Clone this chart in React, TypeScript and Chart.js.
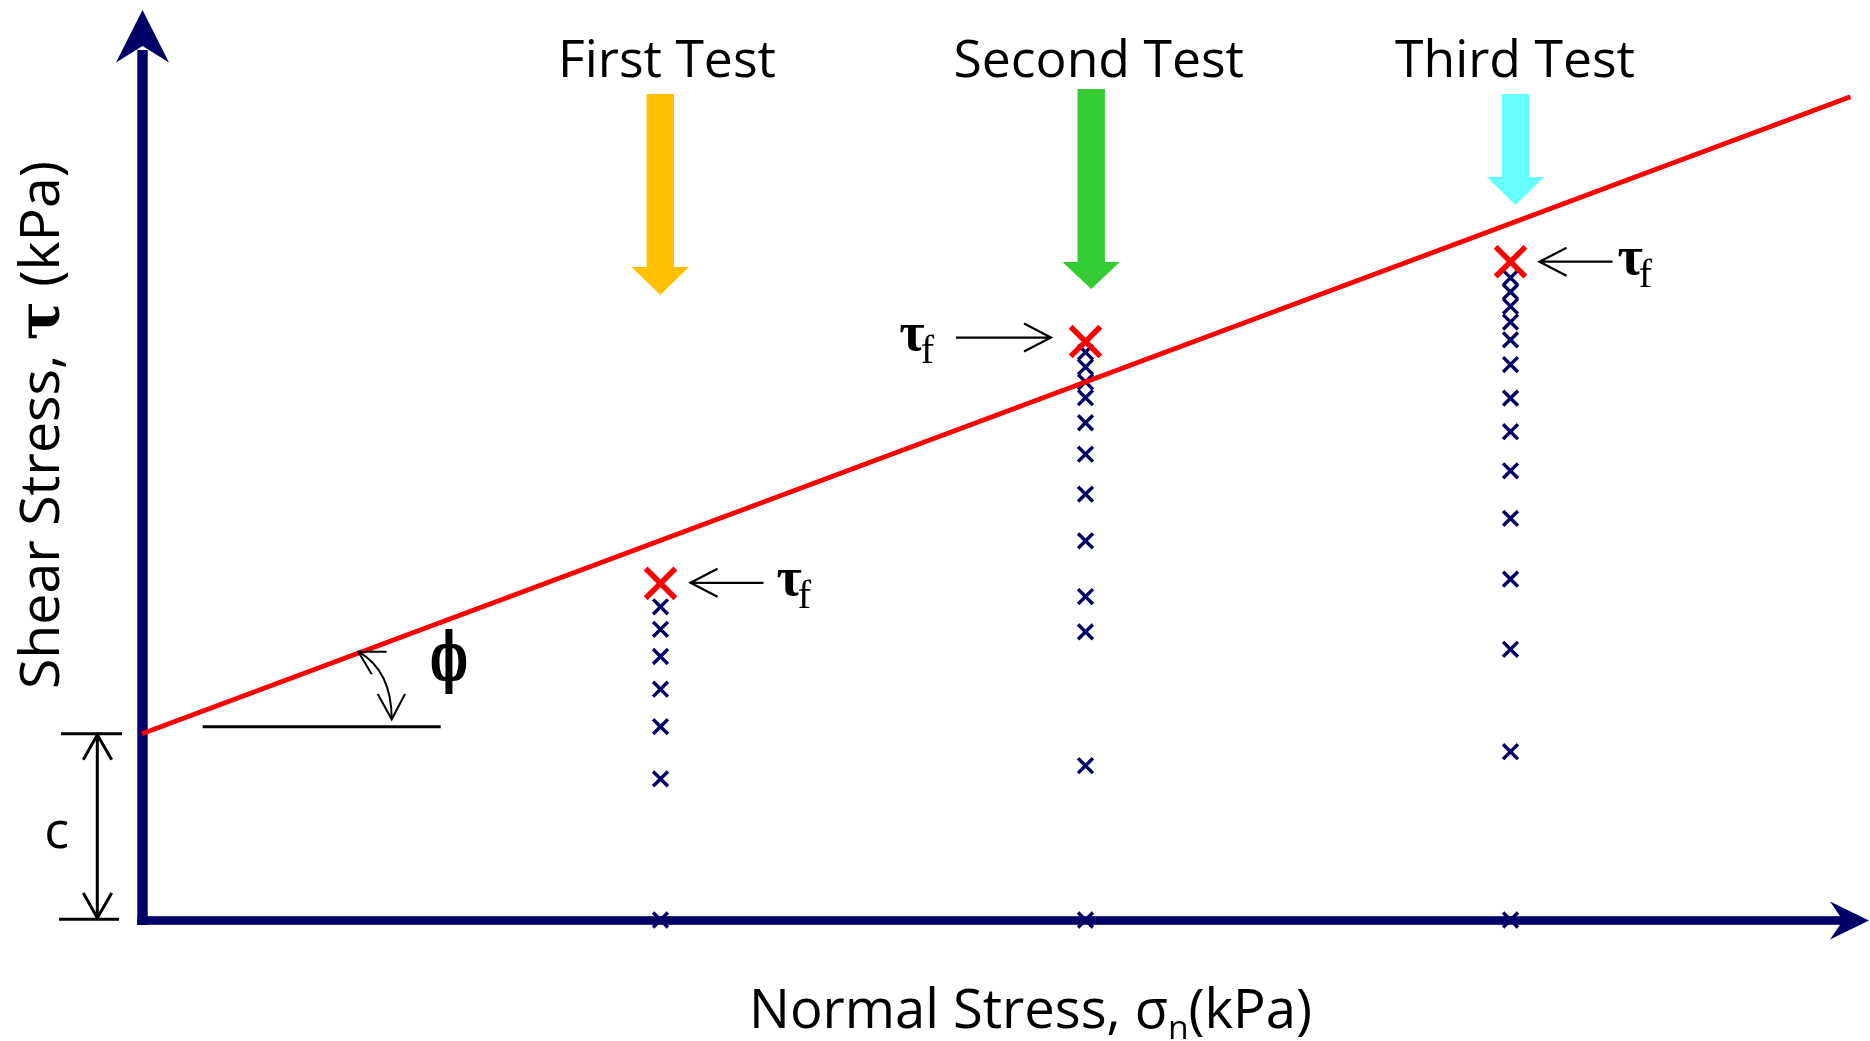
import React, { useEffect, useRef } from 'react';
import { Chart, registerables } from 'chart.js';

Chart.register(...registerables);

// ---------------- data ----------------
const testNames = ['First Test', 'Second Test', 'Third Test'];
const testSigma = [122, 222, 322]; // normal stress of each test (kPa)
const test1Tau = [0, 33.2, 45.5, 54.3, 62.0, 68.4, 73.7];
const test2Tau = [0, 36.3, 67.8, 76.1, 89.2, 100.2, 109.6, 117.0, 122.9, 126.6, 130.1, 133.6, 136.0];
const test3Tau = [0, 39.6, 63.7, 80.2, 94.5, 105.7, 114.9, 122.8, 130.7, 136.5, 140.7, 144.4, 147.8, 151.1, 154.8];
const failureTau = [79.2, 136.1, 154.9]; // tau_f of each test
const envelopeSigma = [0, 402];
const envelopeTau = [43.8, 193.7];
const cohesion = 43.8;
const xMax = 400;
const yMax = 200;

// ---------------- styles / layout ----------------
const NAVY = '#000066';
const RED = '#FF0000';
const SANS = '"Comic Sans MS", "Open Sans", sans-serif';
const arrowColors = ['#FFC000', '#33CC33', '#66FFFF'];
const arrowDx = [-0.2, 5.7, 5];
const arrowTop = [94, 89, 94];
const arrowBase = [267, 262, 177];
const arrowTip = [295, 289, 205];
const labelDx = [6.5, 13.2, 4.5];
const labelWidth = [229, 276, 240];
const tfSide = [1, -1, 1];
const tfGap = [30, 34.5, 29];
const tfLen = [73, 95, 73];
const tfDy = [-0.6, -4, 0];
const tfTextGap = [13, 22, 5];

const overlay = {
  id: 'overlay',
  beforeDatasetsDraw(chart: any) {
    const ctx: CanvasRenderingContext2D = chart.ctx;
    const xs = chart.scales.x;
    const ys = chart.scales.y;
    const x0 = xs.getPixelForValue(0) + 0.5;
    const y0 = ys.getPixelForValue(0) + 0.5;
    ctx.save();
    ctx.fillStyle = NAVY;
    // y axis
    ctx.fillRect(x0 - 5.2, 50, 10.4, y0 + 4.5 - 50);
    ctx.beginPath();
    ctx.moveTo(x0, 10);
    ctx.lineTo(x0 + 26.5, 62.5);
    ctx.lineTo(x0, 46);
    ctx.lineTo(x0 - 26.5, 62.5);
    ctx.closePath();
    ctx.fill();
    // x axis
    ctx.fillRect(x0 - 5.2, y0 - 4.3, 1846 - (x0 - 5.2), 8.6);
    ctx.beginPath();
    ctx.moveTo(1869, y0);
    ctx.lineTo(1830, y0 - 19);
    ctx.lineTo(1843, y0);
    ctx.lineTo(1830, y0 + 19);
    ctx.closePath();
    ctx.fill();
    ctx.restore();
  },
  afterDraw(chart: any) {
    const ctx: CanvasRenderingContext2D = chart.ctx;
    const xs = chart.scales.x;
    const ys = chart.scales.y;
    ctx.save();
    ctx.textBaseline = 'alphabetic';

    // test labels
    ctx.font = `52px ${SANS}`;
    let ratio = 0;
    testNames.forEach((n, i) => { ratio += labelWidth[i] / ctx.measureText(n).width; });
    ratio /= testNames.length;
    ctx.font = `${(52 * ratio).toFixed(1)}px ${SANS}`;
    ctx.fillStyle = '#000';
    ctx.textAlign = 'center';
    testNames.forEach((n, i) => {
      ctx.fillText(n, xs.getPixelForValue(testSigma[i]) + labelDx[i], 77);
    });

    // block arrows
    testSigma.forEach((s, i) => {
      const cx = xs.getPixelForValue(s) + arrowDx[i];
      ctx.fillStyle = arrowColors[i];
      ctx.beginPath();
      ctx.moveTo(cx - 13.7, arrowTop[i]);
      ctx.lineTo(cx + 13.7, arrowTop[i]);
      ctx.lineTo(cx + 13.7, arrowBase[i]);
      ctx.lineTo(cx + 28.7, arrowBase[i]);
      ctx.lineTo(cx, arrowTip[i]);
      ctx.lineTo(cx - 28.7, arrowBase[i]);
      ctx.lineTo(cx - 13.7, arrowBase[i]);
      ctx.closePath();
      ctx.fill();
    });

    // tau_f annotations
    const TAU_FONT = 'bold 55px "Liberation Serif", "DejaVu Serif", serif';
    const SUB_FONT = '40px "Liberation Serif", "DejaVu Serif", serif';
    ctx.fillStyle = '#000';
    ctx.strokeStyle = '#000';
    ctx.textAlign = 'left';
    testSigma.forEach((s, i) => {
      const fx = xs.getPixelForValue(s);
      const fy = ys.getPixelForValue(failureTau[i]);
      const side = tfSide[i];
      const ay = fy + tfDy[i];
      const tipX = fx + side * tfGap[i];
      const tailX = tipX + side * tfLen[i];
      ctx.lineWidth = 2.2;
      ctx.beginPath();
      ctx.moveTo(tailX, ay);
      ctx.lineTo(tipX, ay);
      ctx.moveTo(tipX + side * 27, ay - 14);
      ctx.lineTo(tipX, ay);
      ctx.lineTo(tipX + side * 27, ay + 14);
      ctx.stroke();
      ctx.font = TAU_FONT;
      const wTau = ctx.measureText('τ').width;
      ctx.font = SUB_FONT;
      const wF = ctx.measureText('f').width;
      const total = wTau - 4 + wF;
      const tx = side > 0 ? tailX + tfTextGap[i] : tailX - tfTextGap[i] - total;
      ctx.font = TAU_FONT;
      ctx.fillText('τ', tx, ay + 12);
      ctx.font = SUB_FONT;
      ctx.fillText('f', tx + wTau - 4, ay + 25);
    });

    // cohesion dimension
    const y0 = ys.getPixelForValue(0);
    const yc = ys.getPixelForValue(cohesion);
    ctx.lineWidth = 3;
    ctx.beginPath();
    ctx.moveTo(61, yc); ctx.lineTo(122, yc);
    ctx.moveTo(59, y0 - 0.7); ctx.lineTo(119, y0 - 0.7);
    ctx.moveTo(97.3, yc + 1); ctx.lineTo(97.3, y0 - 1);
    ctx.moveTo(83.3, yc + 26); ctx.lineTo(97.3, yc + 1); ctx.lineTo(111.7, yc + 26);
    ctx.moveTo(83.3, y0 - 27); ctx.lineTo(97.3, y0 - 2); ctx.lineTo(111.7, y0 - 27);
    ctx.stroke();
    ctx.font = `52px ${SANS}`;
    ctx.textAlign = 'center';
    ctx.fillText('c', 56.7, 848);

    // friction angle
    ctx.lineWidth = 3;
    ctx.beginPath();
    ctx.moveTo(202.7, yc - 7); ctx.lineTo(440.7, yc - 7);
    ctx.stroke();
    ctx.lineWidth = 2;
    ctx.beginPath();
    ctx.moveTo(358.3, 651.7);
    ctx.quadraticCurveTo(391.7, 670.7, 391.7, 719.3);
    ctx.stroke();
    ctx.beginPath();
    ctx.moveTo(386.7, 651.7); ctx.lineTo(358.3, 651.7); ctx.lineTo(371.7, 674.3);
    ctx.stroke();
    ctx.beginPath();
    ctx.moveTo(377.7, 694); ctx.lineTo(391.7, 719.3); ctx.lineTo(405, 694);
    ctx.stroke();
    ctx.save();
    ctx.translate(449, 680);
    ctx.scale(0.72, 1.2);
    ctx.font = 'bold 56px "DejaVu Serif", serif';
    ctx.textAlign = 'center';
    ctx.fillText('ϕ', 0, 0);
    ctx.restore();

    // x axis title
    const xBase = 55;
    const xSegs = [
      { t: 'Normal Stress, σ', k: 1, dy: 0 },
      { t: 'n', k: 0.62, dy: 0.2 },
      { t: '(kPa)', k: 1, dy: 0 },
    ];
    const measure = (segs: any[], size: number, fontOf: (s: any, sz: number) => string) => {
      let w = 0;
      segs.forEach((sg) => { ctx.font = fontOf(sg, size); w += ctx.measureText(sg.t).width; });
      return w;
    };
    const xFont = (sg: any, sz: number) => `${(sz * sg.k).toFixed(1)}px ${SANS}`;
    const xw0 = measure(xSegs, xBase, xFont);
    const xSize = xBase * (563 / xw0);
    let cx = 1030.5 - 563 / 2;
    ctx.textAlign = 'left';
    xSegs.forEach((sg) => {
      ctx.font = xFont(sg, xSize);
      ctx.fillText(sg.t, cx, 1028 + sg.dy * xSize);
      cx += ctx.measureText(sg.t).width;
    });

    // y axis title
    const ySegs = [
      { t: 'Shear Stress, ', b: false },
      { t: 'τ', b: true },
      { t: ' (kPa)', b: false },
    ];
    const yFont = (sg: any, sz: number) =>
      sg.b ? `bold ${(sz * 1.05).toFixed(1)}px "DejaVu Serif", serif` : `${sz.toFixed(1)}px ${SANS}`;
    const yw0 = measure(ySegs, 54, yFont);
    const ySize = 54 * (528 / yw0);
    ctx.save();
    ctx.translate(59, 425);
    ctx.rotate(-Math.PI / 2);
    let cy = -528 / 2;
    ySegs.forEach((sg) => {
      ctx.font = yFont(sg, ySize);
      ctx.fillText(sg.t, cy, 0);
      cy += ctx.measureText(sg.t).width;
    });
    ctx.restore();

    ctx.restore();
  },
};

const pts = (sig: number, taus: number[]) => taus.map((t) => ({ x: sig, y: t }));

export default function App() {
  const ref = useRef<HTMLCanvasElement>(null);
  useEffect(() => {
    const canvas = ref.current;
    if (!canvas) return;
    const blue = (label: string, data: any[]) => ({
      label,
      data,
      pointStyle: 'crossRot',
      pointRadius: 10.5,
      pointBorderWidth: 3.4,
      pointBorderColor: NAVY,
      borderColor: NAVY,
      backgroundColor: NAVY,
      showLine: false,
      order: 2,
      clip: false,
    });
    const chart = new Chart(canvas, {
      type: 'scatter',
      data: {
        datasets: [
          {
            label: 'Failure',
            data: testSigma.map((s, i) => ({ x: s, y: failureTau[i] })),
            pointStyle: 'crossRot',
            pointRadius: 21,
            pointBorderWidth: 5.5,
            pointBorderColor: RED,
            borderColor: RED,
            backgroundColor: RED,
            showLine: false,
            order: 0,
            clip: false,
          } as any,
          {
            label: 'Envelope',
            data: envelopeSigma.map((s, i) => ({ x: s, y: envelopeTau[i] })),
            showLine: true,
            borderColor: RED,
            borderWidth: 4.8,
            pointRadius: 0,
            order: 1,
            clip: false,
          } as any,
          blue(testNames[0], pts(testSigma[0], test1Tau)) as any,
          blue(testNames[1], pts(testSigma[1], test2Tau)) as any,
          blue(testNames[2], pts(testSigma[2], test3Tau)) as any,
        ],
      },
      options: {
        responsive: false,
        animation: false,
        devicePixelRatio: 1,
        events: [],
        layout: { padding: { left: 142, right: 28, top: 70, bottom: 121 } },
        scales: {
          x: { type: 'linear', min: 0, max: xMax, display: false },
          y: { type: 'linear', min: 0, max: yMax, display: false },
        },
        plugins: { legend: { display: false }, tooltip: { enabled: false } },
      } as any,
      plugins: [overlay],
    });
    return () => chart.destroy();
  }, []);
  return (
    <div style={{ position: 'absolute', left: 0, top: 0, width: 1870, height: 1041, background: '#fff', overflow: 'hidden' }}>
      <canvas ref={ref} width={1870} height={1041} style={{ display: 'block' }} />
    </div>
  );
}
